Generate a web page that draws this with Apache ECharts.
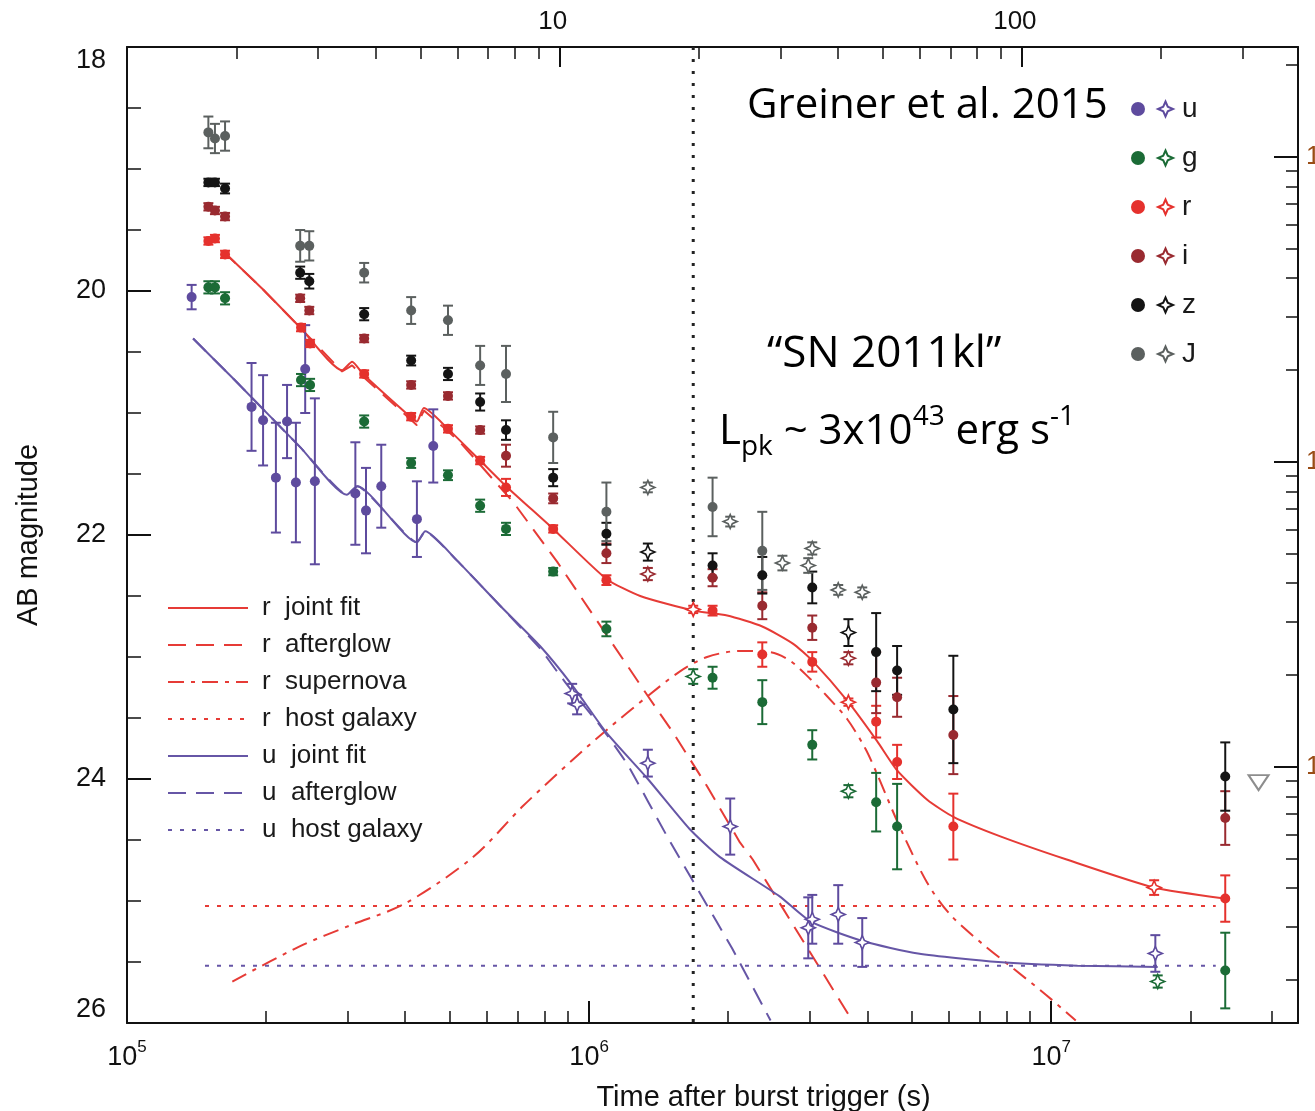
<!DOCTYPE html>
<html>
<head>
<meta charset="utf-8">
<title>SN 2011kl light curve</title>
<script src="https://cdn.jsdelivr.net/npm/echarts@6/dist/echarts.min.js"></script>
<style>
  html, body { margin: 0; padding: 0; background: #fff; }
  #chart { width: 1315px; height: 1111px; }
</style>
</head>
<body>
<div id="chart"></div>
<script>
// photometry: [time after trigger (s), AB magnitude, error]
const uPhot = [
  [1.38e5, 20.05, 0.10], [1.86e5, 20.95, 0.36], [1.97e5, 21.06, 0.37], [2.10e5, 21.53, 0.45],
  [2.22e5, 21.07, 0.30], [2.32e5, 21.57, 0.49], [2.43e5, 20.64, 0.36], [2.55e5, 21.56, 0.68],
  [3.12e5, 21.66, 0.42], [3.29e5, 21.80, 0.35], [3.55e5, 21.60, 0.34], [4.24e5, 21.87, 0.31],
  [4.60e5, 21.27, 0.30]
]
const uStar = [
  [9.19e5, 23.30, 0.08], [9.42e5, 23.39, 0.08], [1.34e6, 23.87, 0.11], [2.02e6, 24.39, 0.23],
  [2.98e6, 25.22, 0.25], [3.04e6, 25.15, 0.20], [3.46e6, 25.11, 0.24], [3.90e6, 25.34, 0.20],
  [1.68e7, 25.43, 0.15]
]
const gPhot = [
  [1.50e5, 19.97, 0.05], [1.55e5, 19.97, 0.05], [1.63e5, 20.06, 0.05], [2.38e5, 20.73, 0.05],
  [2.49e5, 20.77, 0.05], [3.26e5, 21.07, 0.05], [4.12e5, 21.41, 0.04], [4.95e5, 21.51, 0.04],
  [5.81e5, 21.76, 0.05], [6.61e5, 21.95, 0.05], [8.36e5, 22.30, 0.03], [1.09e6, 22.77, 0.06],
  [1.85e6, 23.17, 0.09], [2.37e6, 23.37, 0.18], [3.04e6, 23.72, 0.12], [4.18e6, 24.19, 0.24],
  [4.64e6, 24.39, 0.35], [2.38e7, 25.57, 0.31]
]
const gStar = [[1.68e6, 23.16, 0.06], [3.64e6, 24.10, 0.05], [1.70e7, 25.66, 0.05]]
const rPhot = [
  [1.50e5, 19.59, 0.03], [1.55e5, 19.57, 0.03], [1.63e5, 19.70, 0.03], [2.38e5, 20.30, 0.03],
  [2.49e5, 20.43, 0.03], [3.26e5, 20.68, 0.03], [4.12e5, 21.03, 0.03], [4.95e5, 21.13, 0.03],
  [5.81e5, 21.39, 0.03], [6.61e5, 21.61, 0.07], [8.36e5, 21.95, 0.03], [1.09e6, 22.37, 0.04],
  [1.85e6, 22.62, 0.04], [2.37e6, 22.98, 0.10], [3.04e6, 23.04, 0.08], [4.18e6, 23.53, 0.13],
  [4.64e6, 23.86, 0.14], [6.14e6, 24.39, 0.27], [2.38e7, 24.98, 0.19]
]
const rStar = [[1.68e6, 22.61, 0.03], [3.64e6, 23.37, 0.03], [1.67e7, 24.89, 0.06]]
const iPhot = [
  [1.50e5, 19.31, 0.03], [1.55e5, 19.34, 0.03], [1.63e5, 19.39, 0.03], [2.37e5, 20.06, 0.03],
  [2.48e5, 20.16, 0.03], [3.26e5, 20.39, 0.03], [4.12e5, 20.77, 0.03], [4.95e5, 20.86, 0.03],
  [5.81e5, 21.14, 0.03], [6.61e5, 21.35, 0.09], [8.36e5, 21.70, 0.04], [1.09e6, 22.15, 0.08],
  [1.85e6, 22.35, 0.07], [2.37e6, 22.58, 0.11], [3.04e6, 22.76, 0.10], [4.18e6, 23.21, 0.25],
  [4.64e6, 23.33, 0.16], [6.14e6, 23.64, 0.32], [2.38e7, 24.32, 0.22]
]
const iStar = [[1.34e6, 22.32, 0.05], [3.64e6, 23.01, 0.05]]
const zPhot = [
  [1.50e5, 19.11, 0.03], [1.55e5, 19.11, 0.03], [1.63e5, 19.16, 0.04], [2.37e5, 19.85, 0.05],
  [2.48e5, 19.92, 0.06], [3.26e5, 20.19, 0.05], [4.12e5, 20.57, 0.04], [4.95e5, 20.68, 0.05],
  [5.81e5, 20.91, 0.07], [6.61e5, 21.14, 0.08], [8.36e5, 21.53, 0.07], [1.09e6, 21.99, 0.09],
  [1.85e6, 22.25, 0.10], [2.37e6, 22.33, 0.15], [3.04e6, 22.43, 0.13], [4.18e6, 22.96, 0.32],
  [4.64e6, 23.11, 0.20], [6.14e6, 23.43, 0.44], [2.38e7, 23.98, 0.28]
]
const zStar = [[1.34e6, 22.14, 0.07], [3.64e6, 22.80, 0.11]]
const jPhot = [
  [1.50e5, 18.70, 0.13], [1.55e5, 18.75, 0.12], [1.63e5, 18.73, 0.12], [2.37e5, 19.63, 0.13],
  [2.48e5, 19.63, 0.12], [3.26e5, 19.85, 0.08], [4.12e5, 20.16, 0.11], [4.95e5, 20.24, 0.12],
  [5.81e5, 20.61, 0.16], [6.61e5, 20.68, 0.23], [8.36e5, 21.20, 0.21], [1.09e6, 21.81, 0.24],
  [1.85e6, 21.77, 0.24], [2.37e6, 22.13, 0.32]
]
const jStar = [
  [1.34e6, 21.61, 0.04], [2.02e6, 21.89, 0.04], [2.62e6, 22.23, 0.06], [2.98e6, 22.25, 0.06],
  [3.04e6, 22.11, 0.05], [3.46e6, 22.45, 0.04], [3.90e6, 22.47, 0.04]
]
const jLimit = [[2.81e7, 24.03]]

// model curves: [time (s), AB magnitude]
const rJoint = [
  [1.61e5, 19.67], [1.96e5, 19.98], [2.37e5, 20.30], [2.92e5, 20.65], [3.07e5, 20.58],
  [3.24e5, 20.68], [4.10e5, 21.03], [4.24e5, 21.07], [4.39e5, 20.96], [4.95e5, 21.13],
  [5.81e5, 21.39], [6.61e5, 21.60], [8.36e5, 21.95], [1.09e6, 22.36], [1.29e6, 22.50],
  [1.68e6, 22.62], [1.99e6, 22.66], [2.37e6, 22.75], [2.76e6, 22.89], [3.04e6, 23.03],
  [3.64e6, 23.37], [4.20e6, 23.69], [4.64e6, 23.93], [5.39e6, 24.17], [6.14e6, 24.31],
  [7.76e6, 24.47], [1.08e7, 24.66], [1.67e7, 24.89], [2.37e7, 24.98]
]
const rAfterglow = [
  [1.61e5, 19.67], [1.96e5, 19.98], [2.37e5, 20.30], [2.92e5, 20.66], [3.07e5, 20.61],
  [3.24e5, 20.70], [4.10e5, 21.05], [4.24e5, 21.10], [4.39e5, 20.98], [4.95e5, 21.15],
  [5.26e5, 21.24], [6.85e5, 21.73], [8.53e5, 22.22], [1.34e6, 23.32], [1.52e6, 23.62],
  [1.80e6, 24.06], [2.12e6, 24.52], [2.26e6, 24.66], [3.71e6, 25.98]
]
const rSupernova = [
  [1.69e5, 25.66], [2.37e5, 25.37], [3.04e5, 25.20], [4.00e5, 25.02], [5.61e5, 24.64],
  [7.20e5, 24.22], [9.23e5, 23.84], [1.09e6, 23.60], [1.34e6, 23.32], [1.57e6, 23.12],
  [1.80e6, 23.00], [2.12e6, 22.95], [2.47e6, 22.96], [2.72e6, 23.03], [3.01e6, 23.18],
  [3.27e6, 23.32], [3.62e6, 23.51], [3.96e6, 23.75], [4.20e6, 23.96], [4.71e6, 24.40],
  [5.39e6, 24.85], [6.04e6, 25.11], [7.09e6, 25.35], [8.32e6, 25.56], [9.75e6, 25.77],
  [1.13e7, 25.98]
]
const rHost = [[1.475e5, 25.04], [2.27e7, 25.04]]
const uJoint = [
  [1.39e5, 20.39], [1.71e5, 20.73], [2.37e5, 21.28], [2.99e5, 21.67], [3.15e5, 21.60],
  [4.24e5, 22.06], [4.42e5, 21.97], [5.18e5, 22.21], [6.42e5, 22.58], [7.83e5, 22.91],
  [9.23e5, 23.24], [1.09e6, 23.62], [1.34e6, 24.00], [1.65e6, 24.41], [1.92e6, 24.64],
  [2.58e6, 24.96], [3.02e6, 25.17], [3.92e6, 25.33], [5.15e6, 25.43], [7.68e6, 25.50],
  [1.14e7, 25.53], [1.70e7, 25.54]
]
const uAfterglow = [
  [1.39e5, 20.39], [1.71e5, 20.73], [2.37e5, 21.28], [2.99e5, 21.67], [3.15e5, 21.60],
  [4.24e5, 22.06], [4.42e5, 21.97], [5.18e5, 22.21], [6.42e5, 22.58], [7.83e5, 22.93],
  [8.53e5, 23.12], [9.23e5, 23.29], [1.06e6, 23.57], [1.21e6, 23.88], [1.48e6, 24.48],
  [1.74e6, 24.94], [2.04e6, 25.39], [2.47e6, 25.98]
]
const uHost = [[1.475e5, 25.53], [2.27e7, 25.53]]
const peakLine = [[1.68e6, 18], [1.68e6, 26]]

// axis ticks
const xMin = 1e5
const xMax = 3.42e7
const secMinor = [2e5, 3e5, 4e5, 5e5, 6e5, 7e5, 8e5, 9e5, 2e6, 3e6, 4e6, 5e6, 6e6, 7e6, 8e6, 9e6, 2e7, 3e7]
const dayMajor = [10, 100]
const dayMinor = [2, 3, 4, 5, 6, 7, 8, 9, 20, 30, 40, 50, 60, 70, 80, 90, 200, 300]
const fluxMajor = [100, 10, 1] // micro-Jy
const fluxMinor = [200, 90, 80, 70, 60, 50, 40, 30, 20, 9, 8, 7, 6, 5, 4, 3, 2, 0.9, 0.8, 0.7, 0.6, 0.5, 0.4, 0.3, 0.2]

const bands = ['u', 'g', 'r', 'i', 'z', 'J']
const phot = { u: uPhot, g: gPhot, r: rPhot, i: iPhot, z: zPhot, J: jPhot }
const stars = { u: uStar, g: gStar, r: rStar, i: iStar, z: zStar, J: jStar }
const colors = { u: '#5e4b9e', g: '#1b6b36', r: '#e5312d', i: '#992a30', z: '#141414', J: '#5b605f' }
const rLine = '#e63b36'
const uLine = '#6656a6'
const font = 'Liberation Sans'
const starPath = 'path://M0,-10 L3,-3 L10,0 L3,3 L0,10 L-3,3 L-10,0 L-3,-3 Z'

const lg10 = v => Math.log10(v)
const daySec = d => Math.log10(d * 86400)
const fluxToMag = f => 23.9 - 2.5 * Math.log10(f)
const black = { color: '#111', width: 2 }

function errorBars(color) {
  return function (params, api) {
    const t = api.value(0)
    const m = api.value(1)
    const e = api.value(2)
    const top = api.coord([t, m - e])
    const bot = api.coord([t, m + e])
    const cap = 5
    const style = { stroke: color, lineWidth: 2 }
    return {
      type: 'group',
      children: [
        { type: 'line', shape: { x1: top[0], y1: top[1], x2: bot[0], y2: bot[1] }, style },
        { type: 'line', shape: { x1: top[0] - cap, y1: top[1], x2: top[0] + cap, y2: top[1] }, style },
        { type: 'line', shape: { x1: bot[0] - cap, y1: bot[1], x2: bot[0] + cap, y2: bot[1] }, style }
      ]
    }
  }
}

function modelLine(name, data, color, type, smooth) {
  return {
    name,
    type: 'line',
    data,
    symbol: 'none',
    smooth: smooth || false,
    z: 1,
    lineStyle: { color, width: 2, type },
    itemStyle: { color }
  }
}

const series = [
  modelLine('r  joint fit', rJoint, rLine, 'solid', 0.2),
  modelLine('r  afterglow', rAfterglow, rLine, [18, 10]),
  modelLine('r  supernova', rSupernova, rLine, [16, 7, 4, 7], 0.3),
  modelLine('r  host galaxy', rHost, rLine, [4, 8]),
  modelLine('u  joint fit', uJoint, uLine, 'solid', 0.2),
  modelLine('u  afterglow', uAfterglow, uLine, [18, 10], 0.15),
  modelLine('u  host galaxy', uHost, uLine, [4, 8]),
  {
    name: 'peak',
    type: 'line',
    data: peakLine,
    symbol: 'none',
    z: 1,
    lineStyle: { color: '#222', width: 3, type: [3, 9] }
  }
]

bands.forEach(b => {
  series.push({
    name: b + ' err',
    type: 'custom',
    renderItem: errorBars(colors[b]),
    data: phot[b].concat(stars[b]),
    encode: { x: 0, y: 1 },
    z: 3
  })
  series.push({
    name: b,
    type: 'scatter',
    data: phot[b],
    symbol: 'circle',
    symbolSize: 10,
    itemStyle: { color: colors[b], opacity: 1 },
    z: 4
  })
  series.push({
    name: b + ' star',
    type: 'scatter',
    data: stars[b],
    symbol: starPath,
    symbolSize: 14,
    itemStyle: { color: '#fff', borderColor: colors[b], borderWidth: 1.6, opacity: 1 },
    z: 5
  })
})

series.push({
  name: 'J limit',
  type: 'scatter',
  data: jLimit,
  symbol: 'triangle',
  symbolRotate: 180,
  symbolSize: [20, 15],
  itemStyle: { color: '#fff', borderColor: '#707070', borderWidth: 2 },
  z: 5
})

const chart = echarts.init(document.getElementById('chart'))
chart.setOption({
  animation: false,
  backgroundColor: '#fff',
  grid: { left: 127, right: 17, top: 47, bottom: 88, outerBoundsMode: 'none' },
  xAxis: [
    {
      type: 'log',
      logBase: 10,
      min: xMin,
      max: xMax,
      position: 'bottom',
      name: 'Time after burst trigger (s)',
      nameLocation: 'middle',
      nameGap: 60,
      nameTextStyle: { fontFamily: font, fontSize: 29, color: '#111', padding: [0, 0, 0, 102] },
      axisLine: { show: true, lineStyle: black },
      axisTick: { inside: true, length: 22, lineStyle: black },
      minorTick: { show: false },
      splitLine: { show: false },
      axisLabel: {
        margin: 16,
        showMaxLabel: false,
        formatter: v => '{b|10}{s|' + Math.round(Math.log10(v)) + '}',
        rich: {
          b: { fontFamily: font, fontSize: 27, color: '#111', lineHeight: 32, verticalAlign: 'bottom' },
          s: { fontFamily: font, fontSize: 17, color: '#111', lineHeight: 17, verticalAlign: 'top' }
        }
      }
    },
    {
      type: 'value',
      min: lg10(xMin),
      max: lg10(xMax),
      position: 'bottom',
      axisLine: { show: false },
      axisTick: { inside: true, length: 12, customValues: secMinor.map(lg10), lineStyle: { color: '#111', width: 1.5 } },
      axisLabel: { show: false },
      splitLine: { show: false }
    },
    {
      type: 'value',
      min: lg10(xMin),
      max: lg10(xMax),
      position: 'top',
      axisLine: { show: true, lineStyle: black },
      axisTick: { inside: true, length: 20, customValues: dayMajor.map(daySec), lineStyle: black },
      axisLabel: {
        customValues: dayMajor.map(daySec),
        formatter: v => String(Math.round(Math.pow(10, v) / 86400)),
        fontFamily: font,
        fontSize: 26,
        color: '#111',
        margin: 12,
        padding: [0, 14, 0, 0]
      },
      splitLine: { show: false }
    },
    {
      type: 'value',
      min: lg10(xMin),
      max: lg10(xMax),
      position: 'top',
      axisLine: { show: false },
      axisTick: { inside: true, length: 12, customValues: dayMinor.map(daySec), lineStyle: { color: '#111', width: 1.5 } },
      axisLabel: { show: false },
      splitLine: { show: false }
    }
  ],
  yAxis: [
    {
      type: 'value',
      min: 18,
      max: 26,
      interval: 2,
      inverse: true,
      position: 'left',
      name: 'AB magnitude',
      nameLocation: 'middle',
      nameGap: 84,
      nameTextStyle: { fontFamily: font, fontSize: 29, color: '#111' },
      axisLine: { show: true, lineStyle: black },
      axisTick: { inside: true, length: 24, lineStyle: black },
      minorTick: { show: true, splitNumber: 4, length: 14, lineStyle: { color: '#111', width: 1.5 } },
      splitLine: { show: false },
      axisLabel: {
        fontFamily: font,
        fontSize: 27,
        color: '#111',
        margin: 21,
        verticalAlignMinLabel: 'top',
        verticalAlignMaxLabel: 'bottom'
      }
    },
    {
      type: 'value',
      min: 18,
      max: 26,
      inverse: true,
      position: 'right',
      axisLine: { show: true, lineStyle: black },
      axisTick: { inside: true, length: 24, customValues: fluxMajor.map(fluxToMag), lineStyle: black },
      axisLabel: {
        customValues: fluxMajor.map(fluxToMag),
        formatter: v => String(Math.round(Math.pow(10, (23.9 - v) / 2.5))),
        fontFamily: font,
        fontSize: 26,
        color: '#9a4d16',
        margin: 8
      },
      splitLine: { show: false }
    },
    {
      type: 'value',
      min: 18,
      max: 26,
      inverse: true,
      position: 'right',
      axisLine: { show: false },
      axisTick: { inside: true, length: 12, customValues: fluxMinor.map(fluxToMag), lineStyle: { color: '#111', width: 1.5 } },
      axisLabel: { show: false },
      splitLine: { show: false }
    }
  ],
  legend: [
    {
      data: ['r  joint fit', 'r  afterglow', 'r  supernova', 'r  host galaxy', 'u  joint fit', 'u  afterglow', 'u  host galaxy'],
      orient: 'vertical',
      left: 162,
      top: 590,
      itemWidth: 80,
      itemHeight: 12,
      itemGap: 11,
      selectedMode: false,
      itemStyle: { opacity: 0 },
      textStyle: { fontFamily: font, fontSize: 26, color: '#1a1a1a', lineHeight: 26, padding: [0, 0, 0, 9] }
    },
    {
      data: bands,
      orient: 'vertical',
      left: 1126,
      top: 97,
      icon: 'circle',
      itemWidth: 14,
      itemHeight: 14,
      itemGap: 35,
      selectedMode: false,
      formatter: () => '',
      textStyle: { fontSize: 10, lineHeight: 14 }
    },
    {
      data: bands.map(b => b + ' star'),
      orient: 'vertical',
      left: 1152,
      top: 89,
      itemWidth: 15,
      itemHeight: 15,
      itemGap: 19,
      selectedMode: false,
      formatter: n => n.split(' ')[0],
      textStyle: { fontFamily: font, fontSize: 28, color: '#1a1a1a', lineHeight: 30, padding: [0, 0, 0, 4] }
    }
  ],
  graphic: [
    {
      type: 'text',
      left: 747,
      top: 85,
      style: { text: 'Greiner et al. 2015', fontFamily: 'Open Sans', fontSize: 42, fill: '#000' }
    },
    {
      type: 'text',
      left: 767,
      top: 332,
      style: { text: '\u201cSN 2011kl\u201d', fontFamily: 'Open Sans', fontSize: 44, fill: '#000' }
    },
    {
      type: 'text',
      left: 719,
      top: 403,
      style: {
        text: '{n|L}{sub|pk}{n| ~ 3x10}{sup|43}{n| erg s}{sup|-1}',
        rich: {
          n: { fontFamily: 'Open Sans', fontSize: 42, fill: '#000', lineHeight: 58, verticalAlign: 'middle' },
          sub: { fontFamily: 'Open Sans', fontSize: 28, fill: '#000', lineHeight: 28, verticalAlign: 'bottom' },
          sup: { fontFamily: 'Open Sans', fontSize: 28, fill: '#000', lineHeight: 28, verticalAlign: 'top' }
        }
      }
    }
  ],
  series
})
</script>
</body>
</html>
